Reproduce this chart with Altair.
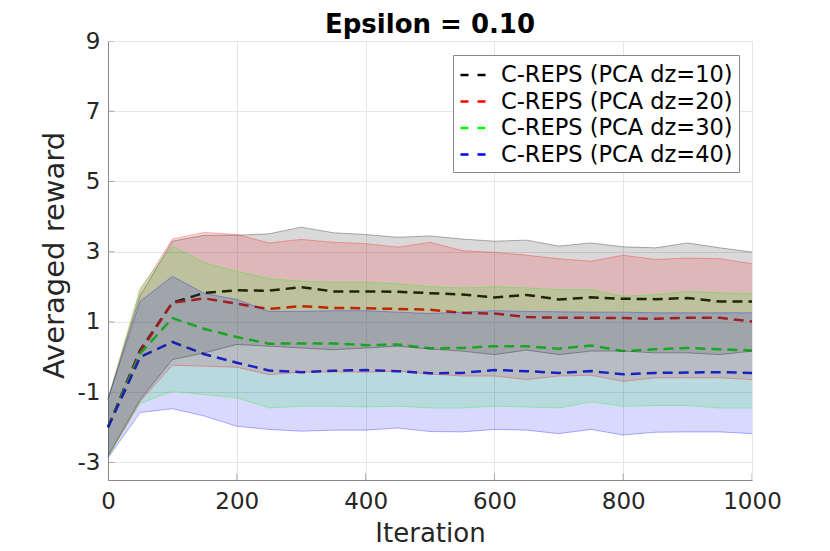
import altair as alt
import pandas as pd

iterations = list(range(0, 1001, 50))
series_names = ["C-REPS (PCA dz=10)", "C-REPS (PCA dz=20)",
                "C-REPS (PCA dz=30)", "C-REPS (PCA dz=40)"]
series_colors = ["#000000", "#ff0000", "#00ff00", "#0000ff"]

mean_dz10 = [-2.0, 0.2, 1.55, 1.83, 1.90, 1.89, 1.99, 1.87, 1.87, 1.86, 1.82,
             1.78, 1.70, 1.77, 1.64, 1.70, 1.66, 1.65, 1.68, 1.58, 1.58]
mean_dz20 = [-2.0, 0.15, 1.55, 1.67, 1.52, 1.37, 1.45, 1.40, 1.39, 1.37, 1.35,
             1.26, 1.24, 1.14, 1.12, 1.12, 1.11, 1.09, 1.12, 1.12, 1.01]
mean_dz30 = [-2.0, 0.1, 1.11, 0.80, 0.57, 0.38, 0.39, 0.39, 0.34, 0.36, 0.25,
             0.26, 0.31, 0.31, 0.24, 0.33, 0.17, 0.22, 0.26, 0.22, 0.19]
mean_dz40 = [-2.0, 0.0, 0.43, 0.08, -0.16, -0.38, -0.43, -0.39, -0.37, -0.40, -0.46,
             -0.45, -0.37, -0.40, -0.45, -0.40, -0.49, -0.45, -0.44, -0.43, -0.45]

hi_dz10 = [-1.2, 1.75, 3.3, 3.47, 3.47, 3.51, 3.70, 3.54, 3.49, 3.41, 3.45,
           3.36, 3.30, 3.33, 3.16, 3.25, 3.14, 3.11, 3.25, 3.11, 2.99]
hi_dz20 = [-1.2, 1.9, 3.36, 3.55, 3.49, 3.25, 3.35, 3.27, 3.23, 3.13, 3.27,
           3.03, 2.98, 2.90, 2.80, 2.73, 2.90, 2.78, 2.82, 2.80, 2.66]
hi_dz30 = [-1.2, 1.97, 3.16, 2.68, 2.44, 2.23, 2.16, 2.13, 2.13, 2.09, 2.0,
           1.97, 2.0, 1.97, 1.92, 1.92, 1.73, 1.78, 1.87, 1.83, 1.80]
hi_dz40 = [-1.2, 1.59, 2.30, 1.81, 1.64, 1.30, 1.30, 1.32, 1.32, 1.28, 1.24,
           1.28, 1.32, 1.30, 1.29, 1.28, 1.28, 1.26, 1.26, 1.26, 1.26]

lo_dz10 = [-2.82, -1.21, -0.07, 0.12, 0.36, 0.31, 0.26, 0.21, 0.26, 0.31, 0.23,
           0.17, 0.07, 0.20, 0.07, 0.17, 0.17, 0.12, 0.12, 0.07, 0.17]
lo_dz20 = [-2.82, -1.26, -0.23, -0.26, -0.29, -0.50, -0.43, -0.42, -0.43, -0.40, -0.48,
           -0.54, -0.54, -0.64, -0.54, -0.52, -0.69, -0.59, -0.59, -0.59, -0.64]
lo_dz30 = [-2.84, -1.32, -0.97, -1.07, -1.16, -1.45, -1.40, -1.40, -1.42, -1.40, -1.45,
           -1.45, -1.40, -1.42, -1.45, -1.28, -1.40, -1.38, -1.38, -1.45, -1.45]
lo_dz40 = [-2.87, -1.58, -1.47, -1.68, -1.97, -2.06, -2.11, -2.08, -2.08, -2.02, -2.12,
           -2.13, -2.06, -2.08, -2.18, -2.06, -2.22, -2.14, -2.13, -2.13, -2.18]

x_ticks = [0, 200, 400, 600, 800, 1000]
y_ticks = [-3, -1, 1, 3, 5, 7, 9]

means = [mean_dz10, mean_dz20, mean_dz30, mean_dz40]
his = [hi_dz10, hi_dz20, hi_dz30, hi_dz40]
los = [lo_dz10, lo_dz20, lo_dz30, lo_dz40]

rows = []
for name, m, lo, hi in zip(series_names, means, los, his):
    for it, a, b, c in zip(iterations, m, lo, hi):
        rows.append({"iteration": it, "series": name, "mean": a, "lo": b, "hi": c})
df = pd.DataFrame(rows)

FONT = "DejaVu Sans"
color_scale = alt.Scale(domain=series_names, range=series_colors)

x_enc = alt.X("iteration:Q",
              scale=alt.Scale(domain=[0, 1000], nice=False),
              axis=alt.Axis(values=x_ticks, title="Iteration",
                            labelExpr="'' + datum.value", labelFlush=False,
                            ticks=False, labelPadding=10, labelFontSize=23,
                            labelFont=FONT, labelColor="#262626",
                            titleFont=FONT, titleFontSize=26, titleFontWeight="normal",
                            titleColor="#262626", titlePadding=7,
                            domainColor="#8a8a8a", domainWidth=1,
                            gridColor="#e6e6e6", gridWidth=1))
y_scale = alt.Scale(domain=[-3.5, 9], nice=False, zero=False)
y_axis = alt.Axis(values=y_ticks, title="Averaged reward",
                  labelExpr="'' + datum.value",
                  ticks=False, labelPadding=8, labelFontSize=23,
                  labelFont=FONT, labelColor="#262626",
                  titleFont=FONT, titleFontSize=29, titleFontWeight="normal",
                  titleColor="#262626", titlePadding=8, titleY=214,
                  domainColor="#8a8a8a", domainWidth=1,
                  gridColor="#e6e6e6", gridWidth=1)

base = alt.Chart(df)

lines = base.mark_line(strokeDash=[10, 6], strokeWidth=2.5).encode(
    x=x_enc,
    y=alt.Y("mean:Q", scale=y_scale, axis=y_axis),
    color=alt.Color("series:N", scale=color_scale, sort=series_names,
                    legend=alt.Legend(title=None, orient="none",
                                      legendX=345, legendY=14,
                                      symbolType="stroke", symbolSize=625,
                                      symbolStrokeWidth=2.5, symbolDash=[8, 9],
                                      labelFont=FONT, labelFontSize=22.5,
                                      labelColor="#000000", labelOffset=14,
                                      strokeColor="#8a8a8a", fillColor="#ffffff",
                                      padding=6, rowPadding=0.5, labelLimit=400)),
    detail="series:N",
)

bands = base.mark_area(opacity=0.15).encode(
    x="iteration:Q",
    y=alt.Y("lo:Q", stack=None),
    y2="hi:Q",
    color=alt.Color("series:N", scale=color_scale, legend=None),
)

upper_edges = base.mark_line(strokeWidth=1, opacity=0.3).encode(
    x="iteration:Q", y="hi:Q",
    color=alt.Color("series:N", scale=color_scale, legend=None),
)
lower_edges = base.mark_line(strokeWidth=1, opacity=0.3).encode(
    x="iteration:Q", y="lo:Q",
    color=alt.Color("series:N", scale=color_scale, legend=None),
)

xtick_df = pd.DataFrame({"t": x_ticks})
ytick_df = pd.DataFrame({"t": y_ticks})
xtick_marks = alt.Chart(xtick_df).mark_tick(orient="vertical", size=13, thickness=1,
                                            color="#8a8a8a", clip=True).encode(
    x="t:Q", y=alt.datum(-3.5))
ytick_marks = alt.Chart(ytick_df).mark_tick(orient="horizontal", size=13, thickness=1,
                                            color="#8a8a8a", clip=True).encode(
    y="t:Q", x=alt.datum(0))

chart = alt.layer(lines, bands, upper_edges, lower_edges, xtick_marks, ytick_marks).properties(
    width=644, height=439,
    autosize=alt.AutoSizeParams(type="none"),
    padding={"left": 100, "top": 33, "right": 70, "bottom": 70},
    title=alt.Title("Epsilon = 0.10", font=FONT, fontSize=26, fontWeight="bold",
                    color="#000000", offset=-8, anchor="middle", frame="group"),
).configure_view(stroke=None).configure(background="white")

chart.save("out.html", embed_options={"renderer": "svg", "actions": False})
